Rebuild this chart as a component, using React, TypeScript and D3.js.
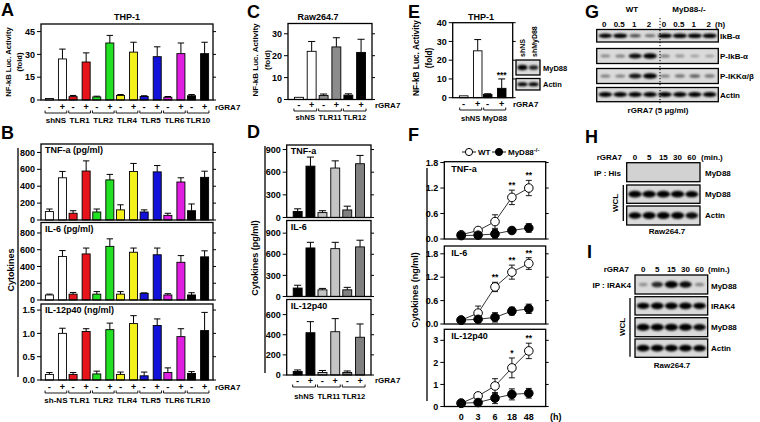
import React from 'react';
import * as d3 from 'd3';

const FONT = '"Liberation Sans", Arial, Helvetica, sans-serif';

// ---------- Panel A: NF-kB luciferase (THP-1) ----------
const groupsA = ['shNS', 'TLR1', 'TLR2', 'TLR4', 'TLR5', 'TLR6', 'TLR10'];
const colorsA = ['#ffffff', '#e8141c', '#22e022', '#f4f01c', '#1212d8', '#e01ee0', '#000000'];
const aMinus = [1.0, 2.2, 2.0, 3.0, 2.3, 1.8, 2.8];
const aMinusErr = [0, 0.8, 0.5, 0.6, 0.5, 0.5, 0.8];
const aPlus = [27, 25, 37.5, 31.5, 28.5, 30.5, 30.5];
const aPlusErr = [6.5, 6, 5, 6.5, 6.5, 7, 7.5];
const ticksA = [0, 15, 30, 45];

// ---------- Panel B: cytokines (THP-1) ----------
const groupsB = ['sh-NS', 'TLR1', 'TLR2', 'TLR4', 'TLR5', 'TLR6', 'TLR10'];
const tnfBMinus = [100, 80, 95, 120, 95, 55, 110];
const tnfBMinusErr = [30, 30, 35, 60, 25, 25, 80];
const tnfBPlus = [500, 580, 475, 575, 570, 450, 505];
const tnfBPlusErr = [75, 120, 65, 95, 75, 50, 73];
const il6BMinus = [60, 70, 70, 70, 80, 60, 60];
const il6BMinusErr = [10, 20, 30, 30, 5, 15, 27];
const il6BPlus = [520, 550, 640, 570, 540, 450, 515];
const il6BPlusErr = [70, 70, 90, 50, 80, 80, 72];
const il12BMinus = [0.12, 0.12, 0.13, 0.12, 0.09, 0.16, 0.14];
const il12BMinusErr = [0.04, 0.04, 0.06, 0.05, 0.08, 0.1, 0.04];
const il12BPlus = [1.0, 1.04, 1.08, 1.21, 1.17, 0.93, 1.06];
const il12BPlusErr = [0.11, 0.06, 0.14, 0.17, 0.14, 0.17, 0.39];
const ticksBpg = [0, 200, 400, 600, 800];
const ticksBng = [0, 0.5, 1.0, 1.5];

// ---------- Panel C: NF-kB luciferase (Raw264.7) ----------
const groupsC = ['shNS', 'TLR11', 'TLR12'];
const colorsC = ['#ffffff', '#8c8c8c', '#000000'];
const cMinus = [1.0, 1.8, 2.0];
const cMinusErr = [0, 0.7, 0.6];
const cPlus = [22, 24, 21.5];
const cPlusErr = [4.5, 4.2, 6];
const ticksC = [0, 10, 20, 30];

// ---------- Panel D: cytokines (Raw264.7) ----------
const colorsD = ['#000000', '#c4c4c4', '#808080'];
const tnfDMinus = [80, 65, 100];
const tnfDMinusErr = [35, 25, 50];
const tnfDPlus = [680, 655, 712];
const tnfDPlusErr = [120, 95, 110];
const il6DMinus = [120, 95, 95];
const il6DMinusErr = [40, 20, 35];
const il6DPlus = [690, 680, 705];
const il6DPlusErr = [80, 90, 95];
const il12DMinus = [35, 25, 25];
const il12DMinusErr = [15, 20, 15];
const il12DPlus = [420, 430, 375];
const il12DPlusErr = [110, 130, 132];
const ticksD900 = [0, 300, 600, 900];
const ticksD600 = [0, 200, 400, 600];

// ---------- Panel E ----------
const groupsE = ['shNS', 'MyD88'];
const colorsE = ['#ffffff', '#000000'];
const eMinus = [1.0, 1.8];
const eMinusErr = [0, 0.3];
const ePlus = [25, 5];
const ePlusErr = [6, 5];
const eSig = ['', '***'];
const ticksE = [0, 10, 20, 30, 40];
const blotELanes = ['shNS', 'shMyD88'];
const blotEMyD88 = [0.9, 0.75];
const blotEActin = [0.9, 0.9];

// ---------- Panel F: time course ----------
const times = ['0', '3', '6', '18', '48'];
const tnfWT = [0.1, 0.2, 0.41, 0.98, 1.2];
const tnfWTErr = [0.02, 0.04, 0.16, 0.17, 0.18];
const tnfKO = [0.08, 0.09, 0.12, 0.2, 0.26];
const tnfKOErr = [0.02, 0.04, 0.1, 0.06, 0.1];
const tnfSig = ['', '', '', '**', '**'];
const il6WT = [0.1, 0.28, 0.95, 1.33, 1.55];
const il6WTErr = [0.02, 0.18, 0.12, 0.18, 0.15];
const il6KO = [0.1, 0.12, 0.17, 0.33, 0.39];
const il6KOErr = [0.02, 0.08, 0.12, 0.1, 0.12];
const il6Sig = ['', '', '**', '**', '**'];
const il12WT = [0.15, 0.48, 0.93, 1.75, 2.52];
const il12WTErr = [0.03, 0.1, 0.33, 0.45, 0.35];
const il12KO = [0.15, 0.18, 0.38, 0.55, 0.6];
const il12KOErr = [0.03, 0.1, 0.25, 0.25, 0.22];
const il12Sig = ['', '', '', '*', '**'];
const ticksFtnf = [0, 0.6, 1.2, 1.8];
const ticksFil6 = [0, 0.6, 1.2, 1.8];
const ticksFil12 = [0, 1, 2, 3];

// ---------- Panel G: western blot ----------
const gLanes = ['0', '0.5', '1', '2', '0 ', '0.5 ', '1 ', '2 '];
const gIkBa = [0.95, 1.0, 0.55, 0.4, 1.0, 1.0, 1.0, 1.0];
const gPIkBa = [0.25, 0.3, 0.85, 0.95, 0.3, 0.2, 0.15, 0.15];
const gPIKK = [0.3, 0.3, 0.8, 1.0, 0.3, 0.35, 0.45, 0.35];
const gActin = [0.9, 0.9, 0.9, 0.9, 0.9, 0.9, 0.9, 0.9];
const gRowLabels = ['IkB-α', 'P-IkB-α', 'P-IKKα/β', 'Actin'];

// ---------- Panel H ----------
const hLanes = ['0', '5', '15', '30', '60'];
const hIPHis = [0, 0, 0, 0, 0];
const hMyD88 = [1.0, 1.0, 1.0, 1.0, 0.9];
const hActin = [0.9, 0.95, 0.95, 0.95, 0.85];

// ---------- Panel I ----------
const iLanes = ['0', '5', '15', '30', '60'];
const iIPIRAK4 = [0.2, 0.7, 1.0, 0.85, 0.25];
const iIRAK4 = [0.9, 0.95, 0.95, 0.95, 0.9];
const iMyD88 = [1.0, 1.0, 1.0, 1.0, 0.85];
const iActin = [0.95, 0.95, 0.95, 0.95, 0.9];

const fmt1 = d3.format('.1f');
const fmt0 = d3.format('d');

function makeX(groups: string[], x0: number, x1: number, po: number, pi: number, pio: number) {
  const g = d3.scaleBand().domain(groups).range([x0, x1]).paddingInner(0).paddingOuter(po);
  const s = d3.scaleBand().domain(['-', '+']).range([0, g.bandwidth()]).paddingInner(pi).paddingOuter(pio);
  return { g, s };
}

function BarBox(p: any) {
  const { xs, groups, colors, minus, minusErr, plus, plusErr, top, bottom, left, right, yMax, ticks, fmt, label, sig, fs = 9 } = p;
  const y = d3.scaleLinear().domain([0, yMax]).range([bottom, top]);
  const bw = xs.s.bandwidth();
  const items: any[] = [];
  groups.forEach((gname: string, i: number) => {
    ['-', '+'].forEach((sg) => {
      const v = sg === '-' ? minus[i] : plus[i];
      const e = sg === '-' ? minusErr[i] : plusErr[i];
      const bx = xs.g(gname) + xs.s(sg);
      const cx = bx + bw / 2;
      items.push(
        <g key={gname + sg}>
          {e > 0 && (
            <path d={`M${cx},${y(v)}V${y(v + e)}M${cx - bw * 0.4},${y(v + e)}H${cx + bw * 0.4}`} stroke="#000" strokeWidth={1} fill="none" />
          )}
          <rect x={bx} y={y(v)} width={bw} height={y(0) - y(v)} fill={colors[i]} stroke="#000" strokeWidth={0.9} />
          {sig && sg === '+' && sig[i] && (
            <text x={cx} y={y(v + e) - 1} textAnchor="middle" fontSize={8.5}>{sig[i]}</text>
          )}
        </g>
      );
    });
  });
  return (
    <g>
      {items}
      <rect x={left} y={top} width={right - left} height={bottom - top} fill="none" stroke="#000" strokeWidth={1.3} />
      {ticks.map((t: number) => (
        <g key={t}>
          <line x1={left - 4} x2={left} y1={y(t)} y2={y(t)} stroke="#000" strokeWidth={1} />
          <line x1={right} x2={right + 3} y1={y(t)} y2={y(t)} stroke="#000" strokeWidth={1} />
          <text x={left - 6} y={y(t)} dy="0.35em" textAnchor="end" fontSize={fs}>{fmt(t)}</text>
        </g>
      ))}
      {label && (
        <text x={left + 4} y={top + 9} fontSize={9}>{label}</text>
      )}
    </g>
  );
}

function XCats(p: any) {
  const { xs, groups, ySign, yBr, yLab, fs = 8 } = p;
  const gw = xs.g.bandwidth();
  return (
    <g fontSize={fs}>
      {groups.map((gname: string) => {
        const gx = xs.g(gname);
        return (
          <g key={gname}>
            {['-', '+'].map((sg) => (
              <text key={sg} x={gx + xs.s(sg) + xs.s.bandwidth() / 2} y={ySign} textAnchor="middle" fontSize={sg === '-' ? 9.5 : 9}>{sg}</text>
            ))}
            <path d={`M${gx + 1},${yBr - 2.5}V${yBr}H${gx + gw - 1}V${yBr - 2.5}`} stroke="#000" fill="none" strokeWidth={0.9} />
            <text x={gx + gw / 2} y={yLab} textAnchor="middle">{gname}</text>
          </g>
        );
      })}
    </g>
  );
}

function LineBox(p: any) {
  const { xp, top, bottom, left, right, yMax, ticks, fmt, wt, wtErr, ko, koErr, sig, label } = p;
  const y = d3.scaleLinear().domain([0, yMax]).range([bottom, top]);
  const line = d3.line<number>().x((_d, i) => xp(times[i])).y((d) => y(d));
  const errs = (vals: number[], es: number[], k: string) =>
    vals.map((v, i) => {
      const cx = xp(times[i]);
      const e = es[i];
      return (
        <path key={k + i} d={`M${cx},${y(v - e)}V${y(v + e)}M${cx - 3},${y(v + e)}H${cx + 3}M${cx - 3},${y(v - e)}H${cx + 3}`} stroke="#000" strokeWidth={0.9} fill="none" />
      );
    });
  return (
    <g>
      <path d={line(wt) || ''} fill="none" stroke="#000" strokeWidth={0.8} />
      <path d={line(ko) || ''} fill="none" stroke="#000" strokeWidth={0.8} />
      {errs(wt, wtErr, 'w')}
      {errs(ko, koErr, 'k')}
      {wt.map((v: number, i: number) => (
        <circle key={'wc' + i} cx={xp(times[i])} cy={y(v)} r={4.3} fill="#fff" stroke="#000" strokeWidth={1} />
      ))}
      {ko.map((v: number, i: number) => (
        <circle key={'kc' + i} cx={xp(times[i])} cy={y(v)} r={4.3} fill="#000" stroke="#000" strokeWidth={1} />
      ))}
      {sig.map((s: string, i: number) =>
        s ? (
          <text key={'s' + i} x={xp(times[i])} y={y(wt[i] + wtErr[i]) - 2} textAnchor="middle" fontSize={8.5}>{s}</text>
        ) : null
      )}
      <rect x={left} y={top} width={right - left} height={bottom - top} fill="none" stroke="#000" strokeWidth={1.3} />
      {ticks.map((t: number) => (
        <g key={t}>
          <line x1={left - 4} x2={left} y1={y(t)} y2={y(t)} stroke="#000" strokeWidth={1} />
          <line x1={right} x2={right + 3} y1={y(t)} y2={y(t)} stroke="#000" strokeWidth={1} />
          <text x={left - 6} y={y(t)} dy="0.35em" textAnchor="end" fontSize={9}>{fmt(t)}</text>
        </g>
      ))}
      <text x={left + 7} y={top + 10} fontSize={9}>{label}</text>
    </g>
  );
}

function laneScale(lanes: string[], x0: number, x1: number) {
  return d3.scaleBand().domain(lanes).range([x0, x1]).paddingInner(0).paddingOuter(0.08);
}

function BlotRow(p: any) {
  const { lanes, x0, x1, y0, y1, vals, bg = '#dadada' } = p;
  const ls = laneScale(lanes, x0, x1);
  const cy = (y0 + y1) / 2;
  const h = y1 - y0;
  return (
    <g>
      <rect x={x0} y={y0} width={x1 - x0} height={h} fill={bg} stroke="#000" strokeWidth={1.3} />
      {vals.map((v: number, i: number) =>
        v > 0 ? (
          <ellipse key={i} cx={(ls(lanes[i]) as number) + ls.bandwidth() / 2} cy={cy} rx={ls.bandwidth() * 0.47 * (0.6 + 0.4 * v)} ry={h * 0.17 * (0.4 + 0.7 * v)} fill="#000" opacity={Math.min(1, 0.15 + 0.95 * v)} filter="url(#bl)" />
        ) : null
      )}
    </g>
  );
}

export default function App() {
  const xsA = makeX(groupsA, 41, 213, 0.13, 0.385, 0.1);
  const xsB = makeX(groupsB, 41, 213, 0.13, 0.385, 0.1);
  const xsC = makeX(groupsC, 288, 372, 0.2, 0.3, 0.12);
  const xsD = makeX(groupsC, 286.7, 371, 0.2, 0.3, 0.12);
  const xsE = makeX(groupsE, 452.7, 512.7, 0.25, 0.39, 0.05);
  const xpF = d3.scalePoint().domain(times).range([444.3, 545.7]).padding(1);
  const gl = laneScale(gLanes, 596.7, 718.3);
  const hl = laneScale(hLanes, 626.7, 700);
  const il = laneScale(iLanes, 635, 707.7);
  const el = laneScale(blotELanes, 516, 540);

  return (
    <svg width={760} height={422} style={{ position: 'absolute', left: 0, top: 0, background: '#fff' }} fontFamily={FONT} fontWeight="bold">
      <defs>
        <filter id="bl" x="-30%" y="-80%" width="160%" height="260%">
          <feGaussianBlur stdDeviation="0.8" />
        </filter>
      </defs>
      <rect x={0} y={0} width={760} height={422} fill="#fff" />

      {/* ===== A ===== */}
      <text x={1} y={16} fontSize={18}>A</text>
      <text x={127} y={20} textAnchor="middle" fontSize={9}>THP-1</text>
      <text transform="translate(11,62) rotate(-90)" textAnchor="middle" fontSize={7.6}>NF-kB Luc. Activity</text>
      <text transform="translate(22,62) rotate(-90)" textAnchor="middle" fontSize={7.6}>(fold)</text>
      <BarBox xs={xsA} groups={groupsA} colors={colorsA} minus={aMinus} minusErr={aMinusErr} plus={aPlus} plusErr={aPlusErr}
        top={24} bottom={100} left={41} right={213} yMax={50} ticks={ticksA} fmt={fmt0} />
      <XCats xs={xsA} groups={groupsA} ySign={110} yBr={113} yLab={122.5} />
      <text x={215} y={110} fontSize={8}>rGRA7</text>

      {/* ===== B ===== */}
      <text x={1} y={139} fontSize={18}>B</text>
      <line x1={18} x2={18} y1={148} y2={377} stroke="#000" strokeWidth={1.3} />
      <text transform="translate(14,270) rotate(-90)" textAnchor="middle" fontSize={9}>Cytokines</text>
      <BarBox xs={xsB} groups={groupsB} colors={colorsA} minus={tnfBMinus} minusErr={tnfBMinusErr} plus={tnfBPlus} plusErr={tnfBPlusErr}
        top={144} bottom={220} left={41} right={213} yMax={900} ticks={ticksBpg} fmt={fmt0} label="TNF-a (pg/ml)" />
      <BarBox xs={xsB} groups={groupsB} colors={colorsA} minus={il6BMinus} minusErr={il6BMinusErr} plus={il6BPlus} plusErr={il6BPlusErr}
        top={222.5} bottom={300} left={41} right={213} yMax={925} ticks={ticksBpg} fmt={fmt0} label="IL-6 (pg/ml)" />
      <BarBox xs={xsB} groups={groupsB} colors={colorsA} minus={il12BMinus} minusErr={il12BMinusErr} plus={il12BPlus} plusErr={il12BPlusErr}
        top={304} bottom={380} left={41} right={213} yMax={1.63} ticks={ticksBng} fmt={fmt1} label="IL-12p40 (ng/ml)" />
      <XCats xs={xsB} groups={groupsB} ySign={390} yBr={393} yLab={403} />
      <text x={215} y={390} fontSize={8}>rGRA7</text>

      {/* ===== C ===== */}
      <text x={247} y={18} fontSize={18}>C</text>
      <text x={318} y={20} textAnchor="middle" fontSize={9}>Raw264.7</text>
      <text transform="translate(258,60) rotate(-90)" textAnchor="middle" fontSize={8}>NF-kB Luc. Activity</text>
      <text transform="translate(270,60) rotate(-90)" textAnchor="middle" fontSize={8}>(fold)</text>
      <BarBox xs={xsC} groups={groupsC} colors={colorsC} minus={cMinus} minusErr={cMinusErr} plus={cPlus} plusErr={cPlusErr}
        top={23.5} bottom={99.5} left={288} right={372} yMax={34.7} ticks={ticksC} fmt={fmt0} />
      <XCats xs={xsC} groups={groupsC} ySign={108} yBr={111} yLab={120} fs={7.6} />
      <text x={375} y={108} fontSize={8}>rGRA7</text>

      {/* ===== D ===== */}
      <text x={247} y={138} fontSize={18}>D</text>
      <line x1={265} x2={265} y1={146} y2={373} stroke="#000" strokeWidth={1.3} />
      <text transform="translate(258,258) rotate(-90)" textAnchor="middle" fontSize={9}>Cytokines (pg/ml)</text>
      <BarBox xs={xsD} groups={groupsC} colors={colorsD} minus={tnfDMinus} minusErr={tnfDMinusErr} plus={tnfDPlus} plusErr={tnfDPlusErr}
        top={145} bottom={217.5} left={286.7} right={371} yMax={960} ticks={ticksD900} fmt={fmt0} label="TNF-a" />
      <BarBox xs={xsD} groups={groupsC} colors={colorsD} minus={il6DMinus} minusErr={il6DMinusErr} plus={il6DPlus} plusErr={il6DPlusErr}
        top={220.5} bottom={296.5} left={286.7} right={371} yMax={1080} ticks={ticksD900} fmt={fmt0} label="IL-6" />
      <BarBox xs={xsD} groups={groupsC} colors={colorsD} minus={il12DMinus} minusErr={il12DMinusErr} plus={il12DPlus} plusErr={il12DPlusErr}
        top={299.5} bottom={375} left={286.7} right={371} yMax={750} ticks={ticksD600} fmt={fmt0} label="IL-12p40" />
      <XCats xs={xsD} groups={groupsC} ySign={384} yBr={387} yLab={398.5} fs={7.6} />
      <text x={375} y={383} fontSize={8}>rGRA7</text>

      {/* ===== E ===== */}
      <text x={408} y={18} fontSize={18}>E</text>
      <text x={481} y={20} textAnchor="middle" fontSize={9}>THP-1</text>
      <text transform="translate(419,58) rotate(-90)" textAnchor="middle" fontSize={8.3}>NF-kB Luc. Activity</text>
      <text transform="translate(432,58) rotate(-90)" textAnchor="middle" fontSize={8.3}>(fold)</text>
      <BarBox xs={xsE} groups={groupsE} colors={colorsE} minus={eMinus} minusErr={eMinusErr} plus={ePlus} plusErr={ePlusErr}
        top={22.7} bottom={97.7} left={452.7} right={512.7} yMax={40} ticks={ticksE} fmt={fmt0} sig={eSig} />
      <XCats xs={xsE} groups={groupsE} ySign={107} yBr={110} yLab={120.5} fs={7.6} />
      <text x={513} y={107} fontSize={8}>rGRA7</text>
      {blotELanes.map((l) => (
        <text key={l} transform={`translate(${(el(l) as number) + el.bandwidth() / 2 + 3},57) rotate(-90)`} fontSize={7}>{l}</text>
      ))}
      <BlotRow lanes={blotELanes} x0={516} x1={540} y0={60} y1={75} vals={blotEMyD88} />
      <BlotRow lanes={blotELanes} x0={516} x1={540} y0={78.5} y1={90} vals={blotEActin} />
      <text x={543} y={71} fontSize={7.5}>MyD88</text>
      <text x={543} y={87} fontSize={7.5}>Actin</text>

      {/* ===== F ===== */}
      <text x={408} y={141} fontSize={18}>F</text>
      <g fontSize={8}>
        <line x1={462} x2={476} y1={152} y2={152} stroke="#000" strokeWidth={0.9} />
        <circle cx={469} cy={152} r={3.6} fill="#fff" stroke="#000" strokeWidth={1} />
        <text x={478} y={155}>WT</text>
        <line x1={492} x2={506} y1={152} y2={152} stroke="#000" strokeWidth={0.9} />
        <circle cx={499} cy={152} r={3.6} fill="#000" stroke="#000" strokeWidth={1} />
        <text x={508} y={155}>MyD88<tspan dy={-3} fontSize={6}>-/-</tspan></text>
      </g>
      <line x1={427} x2={427} y1={168} y2={401} stroke="#000" strokeWidth={1.3} />
      <text transform="translate(418,290) rotate(-90)" textAnchor="middle" fontSize={9}>Cytokines (ng/ml)</text>
      <LineBox xp={xpF} top={161.7} bottom={239} left={444.3} right={545.7} yMax={1.82} ticks={ticksFtnf} fmt={fmt1}
        wt={tnfWT} wtErr={tnfWTErr} ko={tnfKO} koErr={tnfKOErr} sig={tnfSig} label="TNF-a" />
      <LineBox xp={xpF} top={246} bottom={324} left={444.3} right={545.7} yMax={2.0} ticks={ticksFil6} fmt={fmt1}
        wt={il6WT} wtErr={il6WTErr} ko={il6KO} koErr={il6KOErr} sig={il6Sig} label="IL-6" />
      <LineBox xp={xpF} top={329.3} bottom={406.5} left={444.3} right={545.7} yMax={3.5} ticks={ticksFil12} fmt={fmt0}
        wt={il12WT} wtErr={il12WTErr} ko={il12KO} koErr={il12KOErr} sig={il12Sig} label="IL-12p40" />
      {times.map((t) => (
        <text key={t} x={xpF(t)} y={420} textAnchor="middle" fontSize={9}>{t}</text>
      ))}
      <text x={550} y={420} fontSize={9}>(h)</text>

      {/* ===== G ===== */}
      <text x={585} y={18} fontSize={18}>G</text>
      <text x={632} y={12} textAnchor="middle" fontSize={8}>WT</text>
      <text x={689} y={12} textAnchor="middle" fontSize={8}>MyD88-/-</text>
      {gLanes.map((l) => (
        <text key={l} x={(gl(l) as number) + gl.bandwidth() / 2 - 1} y={27} textAnchor="middle" fontSize={8}>{l.trim()}</text>
      ))}
      <text x={715} y={27} fontSize={8}>(h)</text>
      <BlotRow lanes={gLanes} x0={596.7} x1={718.3} y0={29.5} y1={42} vals={gIkBa} />
      <BlotRow lanes={gLanes} x0={596.7} x1={718.3} y0={48.5} y1={63.5} vals={gPIkBa} />
      <BlotRow lanes={gLanes} x0={596.7} x1={718.3} y0={68.5} y1={83.5} vals={gPIKK} />
      <BlotRow lanes={gLanes} x0={596.7} x1={718.3} y0={87.5} y1={101.7} vals={gActin} />
      <line x1={660} x2={660} y1={18} y2={104} stroke="#000" strokeWidth={1} strokeDasharray="1.2 1.8" />
      {gRowLabels.map((l, i) => (
        <text key={l} x={720} y={[39, 59, 79, 98][i]} fontSize={8}>{l}</text>
      ))}
      <text x={658} y={113} textAnchor="middle" fontSize={8}>rGRA7 (5 μg/ml)</text>

      {/* ===== H ===== */}
      <text x={585} y={143} fontSize={18}>H</text>
      <text x={622} y={160} textAnchor="end" fontSize={8}>rGRA7</text>
      {hLanes.map((l) => (
        <text key={l} x={(hl(l) as number) + hl.bandwidth() / 2} y={160} textAnchor="middle" fontSize={8}>{l}</text>
      ))}
      <text x={701} y={160} fontSize={8}>(min.)</text>
      <BlotRow lanes={hLanes} x0={626.7} x1={700} y0={162.7} y1={181.7} vals={hIPHis} bg="#d2d2d2" />
      <BlotRow lanes={hLanes} x0={626.7} x1={700} y0={185} y1={203.3} vals={hMyD88} />
      <BlotRow lanes={hLanes} x0={626.7} x1={700} y0={206} y1={225} vals={hActin} />
      <text x={621} y={176} textAnchor="end" fontSize={8}>IP : His</text>
      <text x={705} y={176} fontSize={8}>MyD88</text>
      <text x={705} y={197} fontSize={8}>MyD88</text>
      <text x={705} y={218} fontSize={8}>Actin</text>
      <line x1={623.3} x2={623.3} y1={185} y2={221} stroke="#000" strokeWidth={1.3} />
      <text transform="translate(618,203) rotate(-90)" textAnchor="middle" fontSize={8}>WCL</text>
      <text x={667} y={234} textAnchor="middle" fontSize={8}>Raw264.7</text>

      {/* ===== I ===== */}
      <text x={587} y={258} fontSize={18}>I</text>
      <text x={629} y={272} textAnchor="end" fontSize={8}>rGRA7</text>
      {iLanes.map((l) => (
        <text key={l} x={(il(l) as number) + il.bandwidth() / 2} y={272} textAnchor="middle" fontSize={8}>{l}</text>
      ))}
      <text x={708} y={272} fontSize={8}>(min.)</text>
      <BlotRow lanes={iLanes} x0={635} x1={707.7} y0={275} y1={294} vals={iIPIRAK4} />
      <BlotRow lanes={iLanes} x0={635} x1={707.7} y0={296.7} y1={315} vals={iIRAK4} />
      <BlotRow lanes={iLanes} x0={635} x1={707.7} y0={317.7} y1={336.7} vals={iMyD88} />
      <BlotRow lanes={iLanes} x0={635} x1={707.7} y0={339} y1={357.3} vals={iActin} />
      <text x={631} y={288} textAnchor="end" fontSize={8}>IP : IRAK4</text>
      <text x={711} y={288.5} fontSize={8}>MyD88</text>
      <text x={711} y={309} fontSize={8}>IRAK4</text>
      <text x={711} y={330} fontSize={8}>MyD88</text>
      <text x={711} y={351} fontSize={8}>Actin</text>
      <line x1={630} x2={630} y1={298} y2={356.7} stroke="#000" strokeWidth={1.3} />
      <text transform="translate(625,327) rotate(-90)" textAnchor="middle" fontSize={8}>WCL</text>
      <text x={672} y={368} textAnchor="middle" fontSize={8}>Raw264.7</text>
    </svg>
  );
}
